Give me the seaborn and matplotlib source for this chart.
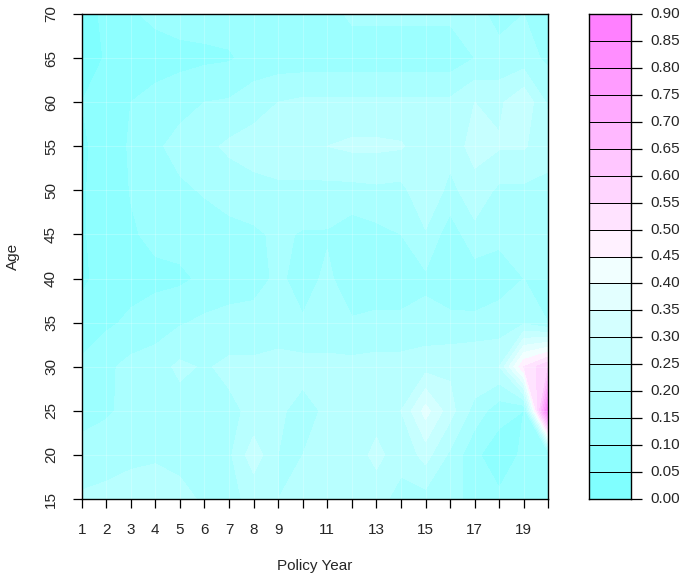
import matplotlib
matplotlib.use("Agg")
import matplotlib.pyplot as plt
import matplotlib.colors as mcolors
import seaborn as sns
import numpy as np

# policy year (columns) and age (rows)
years = [1, 2, 3, 4, 5, 6, 7, 8, 9, 10, 11, 12, 13, 14, 15, 16, 17, 18, 19, 20]
ages = [15, 20, 25, 30, 35, 40, 45, 50, 55, 60, 65, 70]

# values, one list per age
age15 = [0.21, 0.22, 0.22, 0.22, 0.21, 0.195, 0.19, 0.21, 0.20, 0.21, 0.24, 0.22, 0.21, 0.19, 0.18, 0.17, 0.13, 0.11, 0.12, 0.15]
age20 = [0.16, 0.17, 0.19, 0.195, 0.19, 0.18, 0.19, 0.28, 0.20, 0.20, 0.21, 0.21, 0.27, 0.21, 0.27, 0.19, 0.11, 0.07, 0.11, 0.10]
age25 = [0.14, 0.145, 0.16, 0.17, 0.18, 0.185, 0.19, 0.21, 0.21, 0.18, 0.21, 0.22, 0.22, 0.25, 0.37, 0.27, 0.18, 0.12, 0.10, 0.88]
age30 = [0.11, 0.14, 0.165, 0.18, 0.21, 0.195, 0.21, 0.21, 0.22, 0.22, 0.22, 0.215, 0.22, 0.22, 0.23, 0.24, 0.25, 0.25, 0.50, 0.60]
age35 = [0.07, 0.09, 0.11, 0.12, 0.145, 0.16, 0.17, 0.17, 0.17, 0.155, 0.155, 0.155, 0.16, 0.16, 0.165, 0.16, 0.16, 0.17, 0.19, 0.15]
age40 = [0.04, 0.07, 0.08, 0.09, 0.09, 0.11, 0.12, 0.13, 0.16, 0.13, 0.16, 0.12, 0.125, 0.125, 0.14, 0.125, 0.12, 0.13, 0.15, 0.15]
age45 = [0.045, 0.07, 0.095, 0.11, 0.12, 0.125, 0.135, 0.14, 0.16, 0.145, 0.145, 0.12, 0.135, 0.15, 0.195, 0.12, 0.185, 0.16, 0.18, 0.18]
age50 = [0.045, 0.07, 0.102, 0.12, 0.14, 0.155, 0.17, 0.185, 0.19, 0.19, 0.185, 0.185, 0.19, 0.185, 0.24, 0.185, 0.23, 0.19, 0.19, 0.185]
age55 = [0.04, 0.075, 0.105, 0.14, 0.17, 0.185, 0.21, 0.22, 0.23, 0.23, 0.25, 0.26, 0.26, 0.255, 0.22, 0.22, 0.27, 0.255, 0.255, 0.22]
age60 = [0.05, 0.07, 0.10, 0.115, 0.13, 0.15, 0.155, 0.18, 0.20, 0.21, 0.21, 0.21, 0.21, 0.21, 0.21, 0.21, 0.25, 0.24, 0.29, 0.19]
age65 = [0.02, 0.055, 0.075, 0.08, 0.085, 0.09, 0.095, 0.115, 0.12, 0.12, 0.12, 0.12, 0.12, 0.12, 0.12, 0.12, 0.15, 0.16, 0.17, 0.14]
age70 = [0.03, 0.06, 0.095, 0.11, 0.12, 0.12, 0.12, 0.12, 0.12, 0.12, 0.13, 0.16, 0.16, 0.16, 0.16, 0.16, 0.16, 0.14, 0.15, 0.14]

levels = np.round(np.arange(0, 0.91, 0.05), 2)
x_labels = ['1', '2', '3', '4', '5', '6', '7', '8', '9', '', '11', '', '13', '', '15', '', '17', '', '19', '']

Z = np.array([age15, age20, age25, age30, age35, age40, age45, age50, age55, age60, age65, age70])

# R cm.colors(18)
n = len(levels) - 1
k = n // 2
s_lo = np.linspace(0.5, 0.5 / k, k)
s_hi = np.linspace(0, 0.5, n - k + 1)[1:]
cols = [mcolors.hsv_to_rgb((6 / 12, s, 1)) for s in s_lo] + [mcolors.hsv_to_rgb((10 / 12, s, 1)) for s in s_hi]
cmap = mcolors.ListedColormap(cols)

sns.set_style("ticks")
plt.rcParams['font.family'] = ['Liberation Sans', 'DejaVu Sans']
plt.rcParams['font.size'] = 11

W, H = 685, 579
fig = plt.figure(figsize=(W / 100, H / 100), dpi=100, facecolor='white')
ax = fig.add_axes([81.7 / W, (H - 499) / H, (548.3 - 81.7) / W, (499 - 14) / H])
cax = fig.add_axes([589.3 / W, (H - 499) / H, (631 - 589.3) / W, (499 - 14) / H])

ax.contourf(years, ages, Z, levels=levels, colors=cols)
# faint seams between grid cells, as the R device leaves them
for xv in years[1:-1]:
    ax.axvline(xv, color='white', lw=0.6, alpha=0.25)
for yv in ages[1:-1]:
    ax.axhline(yv, color='white', lw=0.6, alpha=0.25)
ax.set_xlim(1, 20)
ax.set_ylim(15, 70)
ax.set_xticks(years)
ax.set_xticklabels(x_labels)
ax.set_yticks(ages)
ax.set_yticklabels([str(a) for a in ages], rotation=90, va='center')
ax.tick_params(direction='out', length=6.5, width=0.9, color='black', labelsize=11, pad=10.5)
for sp in ax.spines.values():
    sp.set_visible(True)
    sp.set_color('black')
    sp.set_linewidth(1)

# key
mids = (levels[:-1] + levels[1:]) / 2
key = mids[::-1].reshape(-1, 1)
sns.heatmap(key, ax=cax, cmap=cmap, vmin=levels[0], vmax=levels[-1], cbar=False,
            linewidths=0.6, linecolor='black', xticklabels=False, yticklabels=False)
cax.yaxis.tick_right()
cax.set_yticks(np.arange(len(levels)))
cax.set_yticklabels([f"{v:.2f}" for v in levels[::-1]], rotation=0, va='center')
cax.tick_params(axis='y', direction='out', length=7.7, width=0.9, color='black', labelsize=11, pad=6)
cax.tick_params(axis='x', length=0)
cax.set_ylim(len(mids), 0)
for sp in cax.spines.values():
    sp.set_visible(True)
    sp.set_color('black')
    sp.set_linewidth(1)

fig.text(315 / W, 1 - 566 / H, 'Policy Year', ha='center', va='center', fontsize=11)
fig.text(13.4 / W, 1 - 256 / H, 'Age', ha='center', va='center', rotation=90, fontsize=11)

fig.savefig('out.png', dpi=100)
